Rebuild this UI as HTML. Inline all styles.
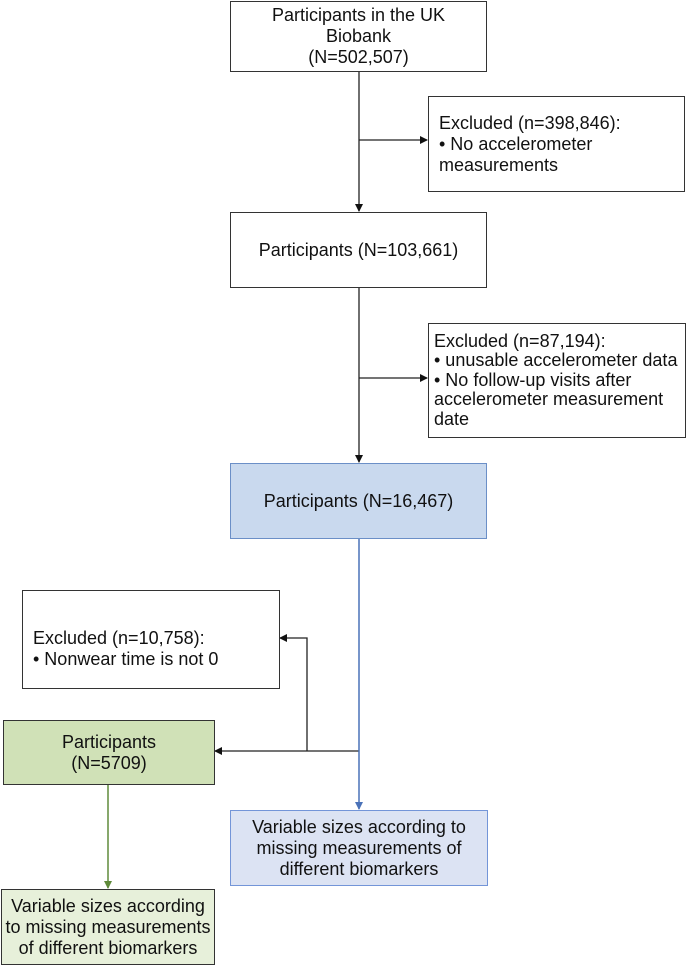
<!DOCTYPE html>
<html><head><meta charset="utf-8"><style>
body{margin:0;width:686px;height:965px;background:#fff;position:relative;font-family:"Liberation Sans",Arial,sans-serif;font-size:18px;color:#111;overflow:hidden}
.b{position:absolute;box-sizing:border-box;border:1.5px solid #333;background:#fff;display:flex;align-items:center;justify-content:center;text-align:center;line-height:21px;white-space:nowrap}
.l{justify-content:flex-start;text-align:left;padding-left:10px}
svg{position:absolute;left:0;top:0}
</style></head><body>
<svg width="686" height="965">
<defs>
<marker id="a" markerWidth="8" markerHeight="8" refX="7" refY="4" orient="auto" markerUnits="userSpaceOnUse"><path d="M0,0 L8,4 L0,8z" fill="#111"/></marker>
<marker id="ab" markerWidth="8" markerHeight="8" refX="7" refY="4" orient="auto" markerUnits="userSpaceOnUse"><path d="M0,0 L8,4 L0,8z" fill="#4a72b8"/></marker>
<marker id="ag" markerWidth="8" markerHeight="8" refX="7" refY="4" orient="auto" markerUnits="userSpaceOnUse"><path d="M0,0 L8,4 L0,8z" fill="#5f8a3a"/></marker>
</defs>
<g stroke="#222" stroke-width="1.3" fill="none">
<line x1="359" y1="71" x2="359" y2="211" marker-end="url(#a)"/>
<line x1="359" y1="140" x2="427" y2="140" marker-end="url(#a)"/>
<line x1="359" y1="287" x2="359" y2="462" marker-end="url(#a)"/>
<line x1="359" y1="378" x2="427" y2="378" marker-end="url(#a)"/>
<line x1="359" y1="751" x2="215" y2="751" marker-end="url(#a)"/>
<polyline points="307,751 307,638 280,638" marker-end="url(#a)"/>
</g>
<line x1="359" y1="538" x2="359" y2="809" stroke="#4a72b8" stroke-width="1.5" marker-end="url(#ab)"/>
<line x1="108" y1="784" x2="108" y2="888" stroke="#5f8a3a" stroke-width="1.5" marker-end="url(#ag)"/>
</svg>
<div class="b" style="left:230px;top:1px;width:257px;height:71px">Participants in the UK<br>Biobank<br>(N=502,507)</div>
<div class="b l" style="left:428px;top:96px;width:257px;height:96px">Excluded (n=398,846):<br>• No accelerometer<br>measurements</div>
<div class="b" style="left:230px;top:212px;width:257px;height:76px">Participants (N=103,661)</div>
<div class="b l" style="left:428px;top:323px;width:258px;height:115px;padding-left:5px;line-height:19.5px">Excluded (n=87,194):<br>• unusable accelerometer data<br>• No follow-up visits after<br>accelerometer measurement<br>date</div>
<div class="b" style="left:230px;top:463px;width:257px;height:76px;background:#c9d9ee;border-color:#6b8fc7">Participants (N=16,467)</div>
<div class="b l" style="left:22px;top:590px;width:258px;height:99px;align-items:flex-start;padding-top:37px">Excluded (n=10,758):<br>• Nonwear time is not 0</div>
<div class="b" style="left:3px;top:720px;width:212px;height:65px;background:#d0e1b7">Participants<br>(N=5709)</div>
<div class="b" style="left:230px;top:810px;width:258px;height:76px;background:#dce3f3;border-color:#7395d8">Variable sizes according to<br>missing measurements of<br>different biomarkers</div>
<div class="b" style="left:1px;top:889px;width:214px;height:76px;background:#e7f0da">Variable sizes according<br>to missing measurements<br>of different biomarkers</div>
</body></html>
